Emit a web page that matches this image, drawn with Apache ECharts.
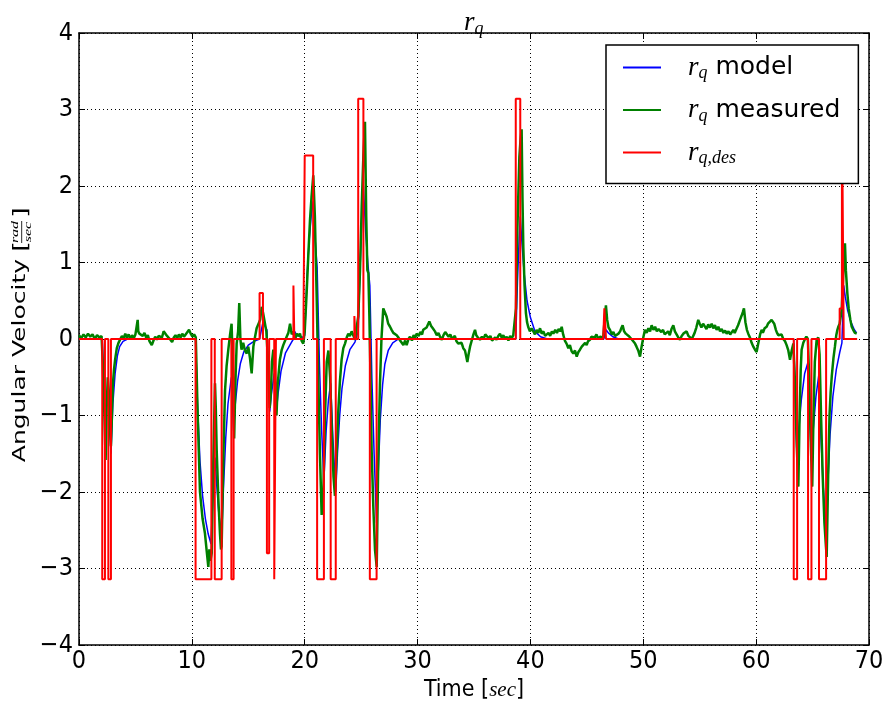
<!DOCTYPE html>
<html>
<head>
<meta charset="utf-8">
<script src="https://cdn.jsdelivr.net/npm/echarts@6/dist/echarts.min.js"></script>
<style>
  html, body { margin: 0; padding: 0; background: #fff; }
  #chart { width: 890px; height: 701px; }
</style>
</head>
<body>
<div id="chart"></div>
<script>
// tick values
const xTicks = [0, 10, 20, 30, 40, 50, 60, 70];
const yTicks = [-4, -3, -2, -1, 0, 1, 2, 3, 4];

// r_q,des : commanded rate [t, rad/s]
const desiredPts = [
  [0, 0], [2.06, 0], [2.06, -3.14], [2.3, -3.14], [2.3, 0], [2.6, 0], [2.6, -3.14], [2.83, -3.14], [2.83, 0],
  [10.33, 0], [10.33, -3.14], [11.73, -3.14], [11.73, 0], [12.03, 0], [12.03, -3.14], [12.64, -3.14], [12.64, 0],
  [13.5, 0], [13.5, -3.14], [13.7, -3.14], [13.7, 0],
  [16.0, 0], [16.0, 0.6], [16.3, 0.6], [16.3, 0], [16.65, 0], [16.65, -2.8], [16.85, -2.8], [16.85, 0],
  [17.3, 0], [17.3, -3.14], [17.45, -3.14], [17.45, 0],
  [19.0, 0], [19.0, 0.7], [19.08, 0.7], [19.08, 0], [19.9, 0], [19.9, 0.38], [20.0, 0.38], [20.0, 2.4], [20.75, 2.4], [20.75, 0],
  [21.1, 0], [21.1, -3.14], [21.7, -3.14], [21.7, 0], [22.3, 0], [22.3, -3.14], [22.75, -3.14], [22.75, 0],
  [24.4, 0], [24.4, 0.3], [24.5, 0.3], [24.5, 0], [24.74, 0], [24.74, 3.14], [25.2, 3.14], [25.2, 0],
  [25.77, 0], [25.77, -3.14], [26.37, -3.14], [26.37, 0],
  [38.7, 0], [38.7, 3.14], [39.1, 3.14], [39.1, 0],
  [46.45, 0], [46.55, 0.4], [46.68, 0.4], [46.7, 0],
  [63.33, 0], [63.33, -3.14], [63.63, -3.14], [63.63, 0], [64.6, 0], [64.6, -3.14], [64.9, -3.14], [64.9, 0],
  [65.57, 0], [65.57, -3.14], [66.2, -3.14], [66.2, 0],
  [67.4, 0], [67.4, 0.4], [67.6, 0.4], [67.6, 3.14], [67.76, 3.14], [67.76, 0], [68.95, 0]
];

// r_q model
const modelPts = [
  [0, 0], [2.06, 0], [2.3, -1.0], [2.6, -0.7], [2.83, -1.5], [3.0, -0.85], [3.2, -0.45], [3.4, -0.22], [3.6, -0.1], [3.9, -0.03], [4.3, 0],
  [10.33, 0], [10.5, -0.85], [10.72, -1.6], [10.95, -2.05], [11.2, -2.35], [11.45, -2.55], [11.7, -2.68], [11.85, -2.1], [12.05, -1.55],
  [12.2, -1.9], [12.4, -2.3], [12.64, -2.58], [12.8, -1.95], [13.0, -1.3], [13.2, -0.85], [13.5, -0.5], [13.7, -1.2], [13.85, -0.85],
  [14.05, -0.55], [14.3, -0.32], [14.6, -0.17], [15.0, -0.08], [15.5, -0.03], [16.0, 0], [16.3, 0.22], [16.65, 0.12], [16.9, -0.95],
  [17.05, -0.72], [17.3, -0.45], [17.45, -1.0], [17.65, -0.7], [17.9, -0.42], [18.3, -0.18], [18.8, -0.05], [19.0, 0], [19.1, 0.1],
  [19.3, 0.05], [19.9, 0.02], [20.0, 0.05], [20.2, 0.8], [20.4, 1.3], [20.6, 1.65], [20.75, 1.8], [20.9, 1.35], [21.1, 0.94],
  [21.3, -0.3], [21.5, -1.2], [21.7, -1.85], [21.9, -1.2], [22.1, -0.8], [22.3, -0.58], [22.5, -1.3], [22.75, -2.0], [22.9, -1.5],
  [23.1, -1.0], [23.3, -0.65], [23.6, -0.35], [24.0, -0.14], [24.45, -0.04], [24.74, 0.1], [24.9, 0.9], [25.05, 1.55], [25.2, 2.0],
  [25.4, 1.4], [25.6, 0.98], [25.77, 0.7], [25.95, -0.5], [26.15, -1.5], [26.37, -2.4], [26.5, -1.8], [26.7, -1.05], [26.9, -0.6],
  [27.1, -0.33], [27.4, -0.15], [27.8, -0.05], [28.3, 0],
  [38.7, 0], [38.85, 0.75], [39.0, 1.3], [39.1, 1.6], [39.25, 1.25], [39.45, 0.85], [39.7, 0.5], [40.0, 0.28], [40.4, 0.1], [40.9, 0.03], [41.5, 0],
  [46.5, 0], [46.7, 0.12], [46.9, 0.08], [47.3, 0.03], [47.8, 0],
  [63.33, 0], [63.48, -0.85], [63.63, -1.6], [63.8, -1.15], [64.0, -0.8], [64.3, -0.45], [64.6, -0.3], [64.75, -1.0], [64.9, -1.6],
  [65.05, -1.2], [65.3, -0.75], [65.57, -0.45], [65.75, -1.3], [65.95, -1.95], [66.2, -2.5], [66.35, -1.9], [66.55, -1.25], [66.8, -0.75],
  [67.1, -0.4], [67.4, -0.18], [67.6, -0.05], [67.76, 0.7], [67.9, 0.55], [68.1, 0.38], [68.4, 0.22], [68.7, 0.12], [68.9, 0.08]
];

// r_q measured
const measuredPts = [
  [0.0, 0.05], [0.2, 0.01], [0.4, 0.06], [0.6, 0.02], [0.8, 0.07], [1.0, 0.03], [1.2, 0.06], [1.4, 0.0], [1.6, 0.05], [1.8, 0.02], [2.0, 0.04],
  [2.1, -0.3], [2.25, -1.0], [2.36, -1.58], [2.45, -0.9], [2.55, -0.5], [2.65, -0.7], [2.75, -1.2], [2.83, -1.4], [2.92, -1.0], [3.0, -0.6],
  [3.1, -0.4], [3.2, -0.27], [3.35, -0.12], [3.5, -0.05], [3.65, -0.03], [3.8, 0.04], [3.95, 0.0], [4.1, 0.07], [4.25, 0.02], [4.4, 0.06],
  [4.55, 0.0], [4.7, 0.05], [4.85, 0.01], [5.0, 0.06], [5.1, 0.04], [5.2, 0.25], [5.25, 0.1], [5.35, 0.07], [5.5, 0.09], [5.65, 0.04],
  [5.8, 0.08], [5.95, 0.02], [6.1, 0.05], [6.25, -0.03], [6.45, -0.08], [6.6, -0.02], [6.75, 0.03], [6.9, -0.01], [7.05, 0.04], [7.2, 0.06],
  [7.35, 0.02], [7.5, 0.1], [7.65, 0.12], [7.8, 0.04], [7.95, 0.06], [8.1, -0.01], [8.25, -0.04], [8.4, 0.02], [8.55, 0.05], [8.7, 0.01],
  [8.85, 0.06], [9.0, 0.02], [9.15, 0.07], [9.3, 0.03], [9.45, 0.06], [9.6, 0.08], [9.75, 0.12], [9.9, 0.07], [10.05, 0.03], [10.2, 0.06],
  [10.35, 0.02], [10.5, -0.9], [10.72, -2.0], [10.95, -2.35], [11.16, -2.54], [11.3, -2.75], [11.46, -2.98], [11.55, -2.75], [11.65, -2.9],
  [11.76, -2.8], [11.9, -1.6], [12.05, -0.58], [12.12, -0.9], [12.2, -1.45], [12.35, -2.1], [12.49, -2.54], [12.58, -2.75], [12.64, -2.71],
  [12.8, -1.5], [12.94, -0.67], [13.08, -0.35], [13.23, -0.14], [13.38, 0.05], [13.52, 0.2], [13.62, -0.3], [13.75, -1.3], [13.85, -0.6],
  [13.97, -0.06], [14.1, 0.1], [14.2, 0.47], [14.3, 0.0], [14.4, -0.14], [14.55, -0.05], [14.7, -0.15], [14.86, -0.19], [15.0, -0.1],
  [15.15, -0.25], [15.3, -0.45], [15.45, -0.1], [15.6, 0.03], [15.74, 0.14], [15.9, 0.12], [16.05, 0.25], [16.19, 0.42], [16.3, 0.35],
  [16.48, 0.2], [16.6, 0.1], [16.75, -0.3], [16.9, -0.9], [17.0, -0.7], [17.1, -0.3], [17.22, -0.14], [17.35, -0.4], [17.5, -1.0],
  [17.6, -0.6], [17.8, -0.27], [17.95, -0.15], [18.1, -0.08], [18.25, -0.06], [18.4, 0.03], [18.55, 0.08], [18.7, 0.2], [18.85, 0.06],
  [19.0, 0.1], [19.14, -0.01], [19.3, 0.07], [19.45, 0.04], [19.58, 0.07], [19.72, -0.02], [19.87, -0.06], [20.0, 0.1], [20.17, 0.6],
  [20.32, 1.1], [20.47, 1.56], [20.6, 1.85], [20.76, 2.14], [20.9, 1.6], [21.06, 0.55], [21.2, -0.5], [21.35, -1.5], [21.5, -2.3],
  [21.65, -2.0], [21.8, -1.0], [21.95, -0.3], [22.1, -0.15], [22.25, -0.5], [22.4, -1.2], [22.55, -1.8], [22.68, -2.05], [22.8, -1.6],
  [22.98, -0.93], [23.12, -0.55], [23.27, -0.27], [23.42, -0.12], [23.57, -0.06], [23.72, 0.02], [23.86, 0.07], [24.0, 0.04], [24.16, 0.1],
  [24.3, 0.05], [24.46, -0.01], [24.6, 0.15], [24.75, 0.3], [24.9, 0.9], [25.05, 1.73], [25.2, 2.4], [25.34, 2.84], [25.45, 1.6],
  [25.55, 0.9], [25.64, 0.86], [25.73, 0.29], [25.83, -0.5], [25.93, -1.45], [26.08, -2.2], [26.23, -2.76], [26.38, -2.98], [26.52, -1.54],
  [26.67, -0.58], [26.8, 0.0], [26.96, 0.4], [27.1, 0.35], [27.26, 0.29], [27.4, 0.2], [27.56, 0.16], [27.7, 0.12], [27.85, 0.08],
  [28.0, 0.1], [28.15, 0.05], [28.3, 0.02], [28.45, -0.02], [28.6, -0.05], [28.74, -0.08], [28.9, -0.02], [29.03, -0.08], [29.2, 0.0],
  [29.33, 0.03], [29.5, -0.02], [29.65, 0.05], [29.8, 0.02], [29.92, 0.07], [30.1, 0.04], [30.25, 0.09], [30.4, 0.06], [30.5, 0.12],
  [30.65, 0.1], [30.8, 0.15], [30.95, 0.2], [31.04, 0.23], [31.2, 0.17], [31.35, 0.14], [31.54, 0.1], [31.7, 0.05], [31.85, 0.08],
  [31.99, 0.03], [32.15, -0.01], [32.3, 0.05], [32.45, 0.09], [32.58, 0.07], [32.75, 0.03], [32.9, 0.06], [33.05, 0.0], [33.17, -0.01],
  [33.3, 0.04], [33.45, -0.03], [33.6, -0.06], [33.76, -0.08], [33.9, -0.05], [34.05, -0.12], [34.2, -0.15], [34.3, -0.22], [34.41, -0.3],
  [34.52, -0.2], [34.65, -0.1], [34.8, -0.02], [34.95, 0.06], [35.09, 0.12], [35.2, 0.05], [35.35, 0.02], [35.53, -0.01], [35.7, 0.03],
  [35.85, 0.0], [36.0, 0.06], [36.13, 0.05], [36.3, 0.01], [36.45, 0.04], [36.6, -0.02], [36.72, -0.03], [36.88, 0.02], [37.0, -0.01],
  [37.15, 0.04], [37.3, 0.07], [37.45, 0.02], [37.6, 0.05], [37.75, 0.0], [37.9, 0.03], [38.05, -0.02], [38.2, 0.04], [38.35, 0.01],
  [38.48, 0.05], [38.6, 0.03], [38.72, 0.4], [38.84, 1.42], [39.02, 2.38], [39.12, 2.6], [39.22, 2.74], [39.3, 1.8], [39.37, 1.2],
  [39.48, 0.7], [39.6, 0.34], [39.7, 0.22], [39.8, 0.16], [39.95, 0.1], [40.1, 0.14], [40.26, 0.1], [40.4, 0.06], [40.55, 0.12],
  [40.7, 0.08], [40.85, 0.14], [41.0, 0.07], [41.15, 0.1], [41.3, 0.04], [41.44, 0.03], [41.6, 0.08], [41.75, 0.04], [41.9, 0.1],
  [42.03, 0.07], [42.2, 0.12], [42.35, 0.08], [42.5, 0.13], [42.65, 0.1], [42.77, 0.16], [42.9, 0.06], [43.05, -0.02], [43.2, -0.06],
  [43.36, -0.12], [43.5, -0.08], [43.65, -0.16], [43.8, -0.19], [43.95, -0.15], [44.1, -0.23], [44.25, -0.17], [44.39, -0.14], [44.55, -0.1],
  [44.7, -0.1], [44.85, -0.05], [44.98, -0.08], [45.1, -0.03], [45.28, -0.01], [45.4, 0.03], [45.57, 0.05], [45.7, 0.02], [45.85, 0.06],
  [46.0, 0.0], [46.16, 0.03], [46.3, 0.05], [46.45, 0.02], [46.6, 0.3], [46.69, 0.44], [46.8, 0.25], [46.92, 0.15], [47.05, 0.12],
  [47.2, 0.06], [47.35, 0.09], [47.5, 0.04], [47.64, 0.03], [47.8, 0.07], [47.95, 0.1], [48.05, 0.14], [48.17, 0.18], [48.3, 0.1],
  [48.45, 0.07], [48.6, 0.09], [48.7, 0.04], [48.82, 0.05], [48.95, 0.0], [49.1, -0.02], [49.27, -0.06], [49.4, -0.1], [49.55, -0.15],
  [49.71, -0.23], [49.85, -0.1], [50.0, 0.02], [50.15, 0.12], [50.3, 0.08], [50.45, 0.14], [50.6, 0.1], [50.74, 0.18], [50.9, 0.12],
  [51.05, 0.16], [51.2, 0.1], [51.35, 0.13], [51.48, 0.14], [51.6, 0.09], [51.75, 0.12], [51.9, 0.06], [52.07, 0.07], [52.2, 0.1],
  [52.35, 0.05], [52.5, 0.13], [52.66, 0.18], [52.8, 0.1], [52.95, 0.06], [53.1, 0.02], [53.25, -0.01], [53.4, 0.04], [53.55, 0.07],
  [53.7, 0.05], [53.84, 0.1], [54.0, 0.04], [54.15, 0.06], [54.3, 0.0], [54.43, 0.01], [54.55, 0.08], [54.7, 0.15], [54.87, 0.25],
  [55.0, 0.2], [55.15, 0.15], [55.3, 0.2], [55.47, 0.18], [55.6, 0.13], [55.75, 0.19], [55.9, 0.15], [56.06, 0.2], [56.2, 0.14],
  [56.35, 0.18], [56.5, 0.12], [56.65, 0.16], [56.8, 0.1], [56.95, 0.13], [57.1, 0.08], [57.25, 0.11], [57.39, 0.07], [57.55, 0.1],
  [57.7, 0.06], [57.85, 0.09], [57.98, 0.12], [58.1, 0.08], [58.25, 0.13], [58.4, 0.18], [58.57, 0.25], [58.7, 0.3], [58.82, 0.35],
  [58.92, 0.4], [59.05, 0.22], [59.18, 0.12], [59.3, 0.07], [59.45, 0.02], [59.6, -0.05], [59.75, -0.1], [59.9, -0.14], [60.04, -0.17],
  [60.2, -0.05], [60.35, 0.06], [60.49, 0.12], [60.6, 0.08], [60.75, 0.14], [60.93, 0.16], [61.05, 0.2], [61.2, 0.18], [61.37, 0.25],
  [61.46, 0.27], [61.6, 0.2], [61.75, 0.12], [61.85, 0.08], [61.96, 0.05], [62.11, 0.03], [62.25, 0.06], [62.4, 0.0], [62.56, -0.03],
  [62.7, -0.08], [62.85, -0.15], [63.0, -0.27], [63.15, -0.15], [63.3, -0.06], [63.45, -0.6], [63.6, -1.4], [63.74, -1.93], [63.85, -1.0],
  [63.95, -0.4], [64.03, -0.14], [64.18, -0.05], [64.33, 0.0], [64.45, 0.03], [64.58, 0.0], [64.7, -0.5], [64.85, -1.4], [64.97, -1.93],
  [65.08, -1.0], [65.2, -0.3], [65.36, -0.01], [65.5, 0.02], [65.62, -0.2], [65.75, -1.0], [65.9, -1.8], [66.05, -2.4], [66.18, -2.7],
  [66.25, -2.85], [66.38, -1.8], [66.5, -1.0], [66.6, -0.7], [66.7, -0.49], [66.85, -0.25], [66.98, -0.1], [67.1, 0.05], [67.2, 0.12],
  [67.28, 0.16], [67.4, 0.2], [67.5, 0.3], [67.58, 0.38], [67.7, 0.8], [67.8, 1.1], [67.87, 1.25], [67.95, 0.9], [68.08, 0.6],
  [68.2, 0.4], [68.35, 0.25], [68.47, 0.16], [68.6, 0.12], [68.75, 0.08], [68.91, 0.07]
];

const narrowFont = "'Liberation Sans Narrow', 'DejaVu Sans Condensed', 'Liberation Sans', sans-serif";
const mathFont = "'Liberation Serif', 'DejaVu Serif', serif";

const minusFmt = function (v) {
    return v < 0 ? '\u2212' + (-v) : String(v);
};

const chart = echarts.init(document.getElementById('chart'));

const axisCommon = {
    axisLine: { show: true, onZero: false, lineStyle: { color: '#000', width: 1.5 } },
    axisTick: { show: true, inside: true, length: 6, lineStyle: { color: '#000', width: 1 } }
};

const subRich = {
    r: { fontFamily: mathFont, fontStyle: 'italic', fontWeight: 'normal', fontSize: 27, lineHeight: 30, verticalAlign: 'middle', color: '#000' },
    q: { fontFamily: mathFont, fontStyle: 'italic', fontWeight: 'normal', fontSize: 18, lineHeight: 18, verticalAlign: 'bottom', color: '#000' },
    t: { fontFamily: 'DejaVu Sans', fontWeight: 'normal', fontSize: 25, lineHeight: 30, verticalAlign: 'middle', color: '#000' }
};

const option = {
    backgroundColor: '#fff',
    animation: false,
    title: {
        text: '{r|r}{q|q}',
        left: 459,
        top: 3,
        textStyle: { fontWeight: 'normal', rich: subRich }
    },
    grid: { left: 79, right: 21, top: 33, bottom: 56, containLabel: false, outerBoundsMode: 'none' },
    legend: {
        orient: 'vertical',
        left: 606,
        top: 45,
        padding: [9, 18, 16, 17],
        itemGap: 14,
        itemWidth: 38,
        itemHeight: 2,
        icon: 'rect',
        backgroundColor: '#fff',
        borderColor: '#000',
        borderWidth: 1.5,
        borderRadius: 0,
        data: ['model', 'measured', 'des'],
        formatter: function (name) {
            if (name === 'des') return '{p|r}{q|q,des}';
            return '{p|r}{q|q}{t| ' + name + '}';
        },
        textStyle: {
            rich: Object.assign({}, subRich, {
                p: Object.assign({}, subRich.r, { padding: [0, 0, 0, 22] })
            })
        }
    },
    xAxis: [
        Object.assign({}, axisCommon, {
            type: 'value',
            min: xTicks[0],
            max: xTicks[xTicks.length - 1],
            interval: xTicks[1] - xTicks[0],
            position: 'bottom',
            name: '{a|Time }{b|[}{c|sec}{b|]}',
            nameLocation: 'middle',
            nameGap: 27,
            nameTextStyle: {
                rich: {
                    a: { fontFamily: narrowFont, fontSize: 23, lineHeight: 26, color: '#000' },
                    b: { fontFamily: narrowFont, fontSize: 23, lineHeight: 26, color: '#000' },
                    c: { fontFamily: mathFont, fontStyle: 'italic', fontSize: 21, lineHeight: 26, color: '#000' }
                }
            },
            axisLabel: { fontFamily: narrowFont, fontSize: 25, color: '#000', margin: 4, formatter: minusFmt },
            splitLine: { show: true, lineStyle: { color: '#000', width: 1, type: [1, 3] } }
        }),
        Object.assign({}, axisCommon, {
            type: 'value',
            min: xTicks[0],
            max: xTicks[xTicks.length - 1],
            interval: xTicks[1] - xTicks[0],
            position: 'top',
            axisLabel: { show: false },
            splitLine: { show: false }
        })
    ],
    yAxis: [
        Object.assign({}, axisCommon, {
            type: 'value',
            min: yTicks[0],
            max: yTicks[yTicks.length - 1],
            interval: yTicks[1] - yTicks[0],
            position: 'left',
            axisLabel: { fontFamily: narrowFont, fontSize: 25, color: '#000', margin: 6, formatter: minusFmt },
            splitLine: { show: true, lineStyle: { color: '#000', width: 1, type: [1, 3] } }
        }),
        Object.assign({}, axisCommon, {
            type: 'value',
            min: yTicks[0],
            max: yTicks[yTicks.length - 1],
            interval: yTicks[1] - yTicks[0],
            position: 'right',
            axisLabel: { show: false },
            splitLine: { show: false }
        })
    ],
    // y axis title, drawn squeezed the same way as the reference
    graphic: [{
        type: 'group',
        x: 21,
        y: 335,
        rotation: Math.PI / 2,
        scaleY: 0.68,
        children: [
            { type: 'text', x: 76, y: 0, style: { text: 'Angular Velocity', font: '25px "DejaVu Sans"', fill: '#000', align: 'right', verticalAlign: 'middle' } },
            { type: 'text', x: 83, y: 2, style: { text: '[', font: '28px "DejaVu Sans"', fill: '#000', align: 'left', verticalAlign: 'middle' } },
            { type: 'text', x: 103, y: -9, style: { text: 'rad', font: 'italic 16px ' + mathFont, fill: '#000', align: 'center', verticalAlign: 'middle' } },
            { type: 'line', shape: { x1: 92, y1: 1, x2: 114, y2: 1 }, style: { stroke: '#000', lineWidth: 1 } },
            { type: 'text', x: 103, y: 11, style: { text: 'sec', font: 'italic 16px ' + mathFont, fill: '#000', align: 'center', verticalAlign: 'middle' } },
            { type: 'text', x: 117, y: 2, style: { text: ']', font: '28px "DejaVu Sans"', fill: '#000', align: 'left', verticalAlign: 'middle' } }
        ]
    }],
    series: [
        {
            name: 'model', type: 'line', xAxisIndex: 0, yAxisIndex: 0,
            data: modelPts, showSymbol: false, symbol: 'none',
            lineStyle: { color: '#0000ff', width: 1.5 }, itemStyle: { color: '#0000ff' }
        },
        {
            name: 'measured', type: 'line', xAxisIndex: 0, yAxisIndex: 0,
            data: measuredPts, showSymbol: false, symbol: 'none',
            lineStyle: { color: '#008000', width: 2.5 }, itemStyle: { color: '#008000' }
        },
        {
            name: 'des', type: 'line', xAxisIndex: 0, yAxisIndex: 0,
            data: desiredPts, showSymbol: false, symbol: 'none',
            lineStyle: { color: '#ff0000', width: 2 }, itemStyle: { color: '#ff0000' }
        }
    ]
};

chart.setOption(option);
</script>
</body>
</html>
